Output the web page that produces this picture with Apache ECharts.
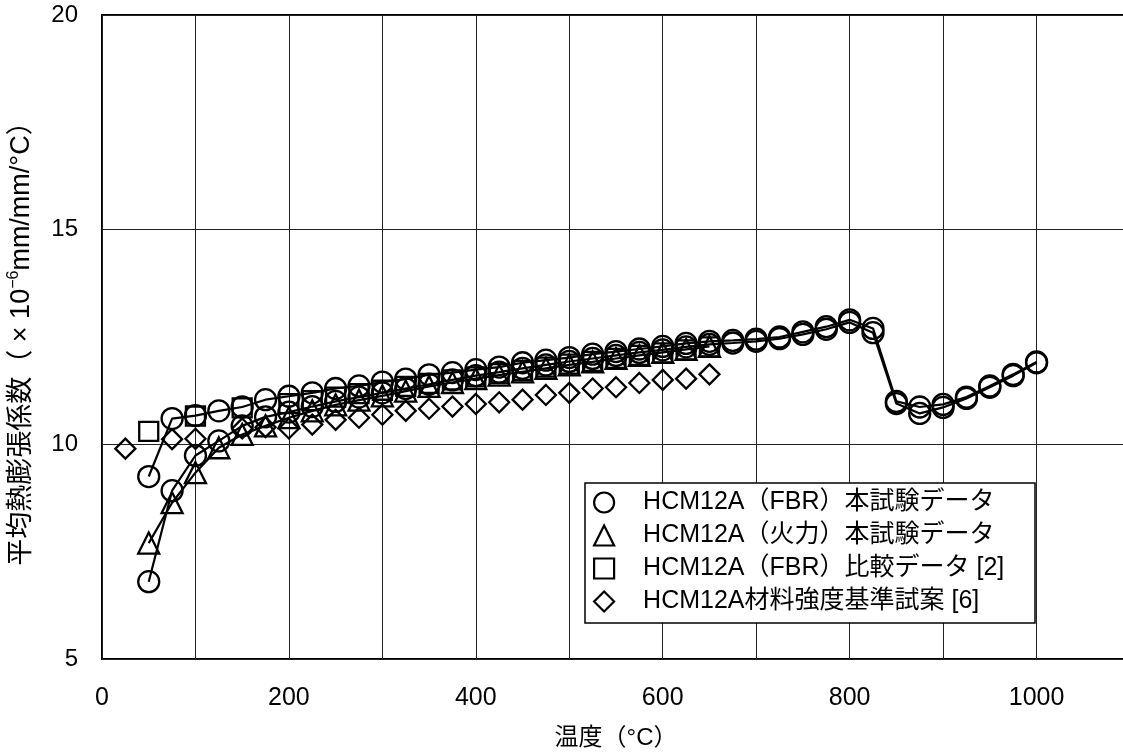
<!DOCTYPE html>
<html><head><meta charset="utf-8">
<script src="https://cdn.jsdelivr.net/npm/echarts@6/dist/echarts.min.js"></script>
<style>html,body{margin:0;padding:0;background:#fff}#c{width:1123px;height:755px}</style>
</head><body><div id="c"></div>
<script>
// ---- data ----
const tempsFBR = [50,75,100,125,150,175,200,225,250,275,300,325,350,375,400,425,450,475,500,525,550,575,600,625,650,675,700,725,750,775,800,825,850,875,900,925,950,975,1000];
const fbrA = [9.25,10.6,10.67,10.78,10.87,11.04,11.12,11.2,11.3,11.36,11.45,11.52,11.62,11.67,11.74,11.8,11.9,11.96,12.02,12.1,12.16,12.22,12.28,12.35,12.4,12.42,12.45,12.5,12.62,12.74,12.9,12.7,11.0,10.87,10.93,11.1,11.36,11.63,11.92];
const fbrB = [6.8,8.92,9.74,10.08,10.43,10.64,10.75,10.88,11.0,11.1,11.2,11.3,11.4,11.5,11.6,11.68,11.77,11.85,11.93,12.0,12.07,12.14,12.2,12.27,12.33,12.36,12.4,12.46,12.56,12.68,12.84,12.6,10.95,10.72,10.86,11.07,11.33,11.6,11.9];
const tempsKaryoku = [50,75,100,125,150,175,200,225,250,275,300,325,350,375,400,425,450,475,500,525,550,575,600,625,650];
const karyoku = [7.7,8.64,9.34,9.92,10.23,10.43,10.62,10.78,10.92,11.03,11.13,11.24,11.35,11.44,11.53,11.61,11.69,11.77,11.85,11.92,12.0,12.07,12.14,12.21,12.28];
const tempsCompare = [50,100,150,200,225,250,275,300,325,350,375,400,425,450,475,500,525,550,575,600,625,650];
const compare = [10.3,10.66,10.85,10.95,11.02,11.1,11.18,11.26,11.35,11.42,11.5,11.57,11.65,11.72,11.8,11.87,11.93,12.0,12.07,12.13,12.2,12.27];
const tempsStandard = [25,75,100,150,175,200,225,250,275,300,325,350,375,400,425,450,475,500,525,550,575,600,625,650];
const standard = [9.9,10.12,10.13,10.37,10.4,10.37,10.46,10.57,10.62,10.69,10.78,10.83,10.88,10.94,10.98,11.04,11.15,11.2,11.3,11.33,11.43,11.5,11.53,11.63];
const seriesNames = ['HCM12A（FBR）本試験データ','HCM12A（火力）本試験データ','HCM12A（FBR）比較データ [2]','HCM12A材料強度基準試案 [6]'];
const xLabelValues = [0,200,400,600,800,1000];

const pairs = (xs, ys) => xs.map((x, i) => [x, ys[i]]);
const FONT = '"Liberation Sans", Arial, "Noto Sans CJK JP", sans-serif';
const hollow = {color: 'rgba(0,0,0,0)', borderColor: '#000', borderWidth: 2.3, opacity: 1};
const legendHollow = {color: 'rgba(0,0,0,0)', borderColor: '#000', borderWidth: 2.2, opacity: 1};

const chart = echarts.init(document.getElementById('c'), null, {renderer: 'canvas'});
chart.setOption({
  backgroundColor: '#fff',
  animation: false,
  textStyle: {fontFamily: FONT, color: '#000'},
  grid: {left: 102, top: 15, width: 1028, height: 644, show: true, borderColor: '#000', borderWidth: 2,
    backgroundColor: 'transparent', outerBoundsMode: 'none', containLabel: false},
  xAxis: {
    type: 'value', min: 0, max: 1100, interval: 100,
    axisLine: {show: false}, axisTick: {show: false},
    splitLine: {show: true, lineStyle: {color: '#222', width: 1}},
    axisLabel: {fontSize: 25, color: '#000', margin: 27, fontFamily: FONT,
      formatter: v => xLabelValues.includes(v) ? String(v) : ''},
    name: '温度（°C）', nameLocation: 'middle', nameGap: 67,
    nameTextStyle: {fontSize: 24, color: '#000', fontFamily: FONT}
  },
  yAxis: {
    type: 'value', min: 5, max: 20, interval: 5,
    axisLine: {show: false}, axisTick: {show: false},
    splitLine: {show: true, lineStyle: {color: '#222', width: 1}},
    axisLabel: {fontSize: 24, color: '#000', margin: 24, fontFamily: FONT},
    name: '{a|平均熱膨張係数（ × 10}{s|−6}{a|mm/mm/°C）}',
    nameLocation: 'middle', nameGap: 64, nameRotate: 90,
    nameTextStyle: {
      rich: {
        a: {fontSize: 27, color: '#000', fontFamily: FONT, lineHeight: 32},
        s: {fontSize: 16, color: '#000', fontFamily: FONT, verticalAlign: 'top', lineHeight: 32, padding: [0,0,10,0]}
      }
    }
  },
  legend: {
    orient: 'vertical', left: 588, top: 485, padding: 5,
    itemWidth: 20, itemHeight: 20, itemGap: 8,
    textStyle: {fontSize: 25, color: '#000', fontFamily: FONT, padding: [0,0,0,24]},
    data: [
      {name: seriesNames[0], icon: 'circle', itemStyle: legendHollow},
      {name: seriesNames[1], icon: 'triangle', itemStyle: legendHollow},
      {name: seriesNames[2], icon: 'rect', itemStyle: legendHollow},
      {name: seriesNames[3], icon: 'diamond', itemStyle: legendHollow}
    ]
  },
  graphic: [{
    type: 'rect', z: 3, silent: true,
    shape: {x: 585, y: 483, width: 450, height: 140},
    style: {fill: '#fff', stroke: '#000', lineWidth: 1.5}
  }],
  series: [
    {name: seriesNames[0], type: 'line', data: pairs(tempsFBR, fbrA), symbol: 'circle', symbolSize: 21,
      itemStyle: hollow, lineStyle: {color: '#000', width: 2.2}, z: 2},
    {name: seriesNames[0], type: 'line', data: pairs(tempsFBR, fbrB), symbol: 'circle', symbolSize: 21,
      itemStyle: hollow, lineStyle: {color: '#000', width: 2.2}, z: 2},
    {name: seriesNames[1], type: 'line', data: pairs(tempsKaryoku, karyoku), symbol: 'triangle', symbolSize: 21,
      itemStyle: hollow, lineStyle: {color: '#000', width: 2.2}, z: 2},
    {name: seriesNames[2], type: 'scatter', data: pairs(tempsCompare, compare), symbol: 'rect', symbolSize: 19,
      itemStyle: hollow, z: 2},
    {name: seriesNames[3], type: 'scatter', data: pairs(tempsStandard, standard), symbol: 'diamond', symbolSize: 20,
      itemStyle: hollow, z: 2}
  ]
});
</script>
</body></html>
